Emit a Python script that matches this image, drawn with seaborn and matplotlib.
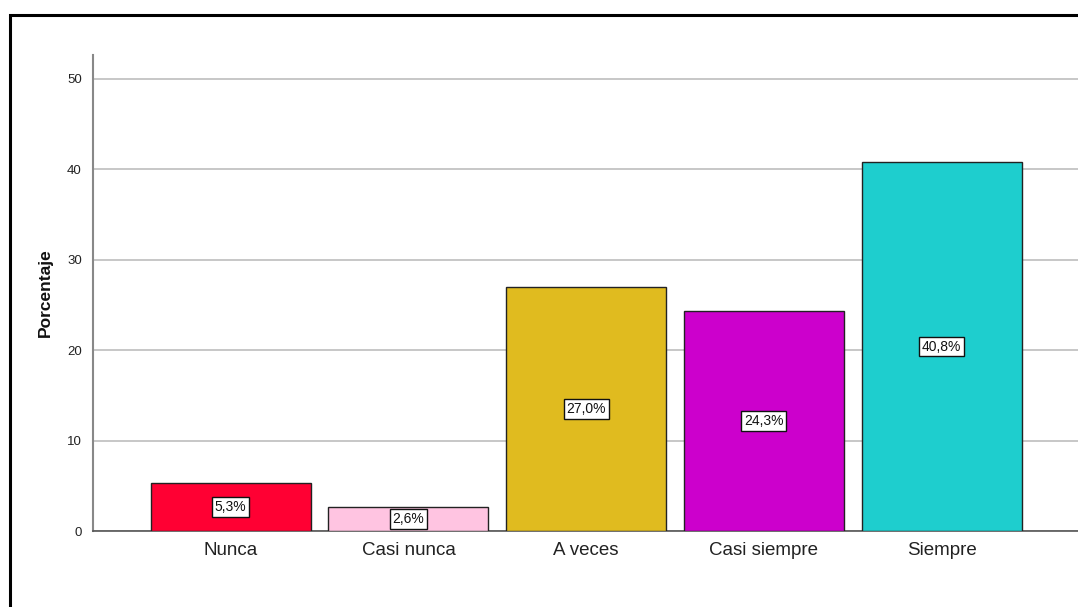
import matplotlib
matplotlib.use("Agg")
import matplotlib.pyplot as plt
import seaborn as sns
import pandas as pd
from matplotlib.patches import Rectangle

categories = ["Nunca", "Casi nunca", "A veces", "Casi siempre", "Siempre"]
values = [5.3, 2.6, 27.0, 24.3, 40.8]
labels = ["5,3%", "2,6%", "27,0%", "24,3%", "40,8%"]
colors = ["#FF0033", "#FFC4E1", "#E0BB1F", "#CC00CC", "#1ECECE"]
yticks = [0, 10, 20, 30, 40, 50]

sns.set_theme(style="white")
plt.rcParams["font.family"] = ["Liberation Sans", "DejaVu Sans"]

df = pd.DataFrame({"cat": categories, "val": values})

fig = plt.figure(figsize=(10.78, 6.07), dpi=100)
ax = fig.add_axes([93/1078, 1 - 531/607, 1 - 93/1078, (531 - 55)/607])

sns.barplot(data=df, x="cat", y="val", hue="cat", palette=colors,
            order=categories, hue_order=categories, width=0.9, saturation=1,
            edgecolor="#222222", linewidth=1.0, legend=False, ax=ax, zorder=3)

ax.set_xlim(-0.775, 4.767)
ax.set_ylim(0, 52.65)
ax.set_yticks(yticks)
ax.set_yticklabels([str(t) for t in yticks], fontsize=9.5, color="#222222")
ax.yaxis.grid(True, color="#BDBDBD", linewidth=1.2, zorder=0)
ax.set_axisbelow(True)
ax.tick_params(axis="y", length=0, pad=8)
ax.tick_params(axis="x", length=0, pad=8, labelsize=13.5, labelcolor="#222222")
ax.set_xlabel("")
ax.set_ylabel("Porcentaje", fontsize=12.5, fontweight="bold", labelpad=10, color="#111111")

for s in ["top", "right"]:
    ax.spines[s].set_visible(False)
ax.spines["left"].set_color("#888888")
ax.spines["left"].set_linewidth(1.5)
ax.spines["bottom"].set_color("#555555")
ax.spines["bottom"].set_linewidth(1.2)

for i, (v, lab) in enumerate(zip(values, labels)):
    ax.text(i, v / 2, lab, ha="center", va="center", fontsize=10, color="#111111", zorder=5,
            bbox=dict(boxstyle="square,pad=0.2", facecolor="white", edgecolor="#111111", linewidth=1.0))

fig.patches.append(Rectangle((10/1078, -0.1), 1.2, 1.1 - 15.5/607,
                             transform=fig.transFigure, fill=False,
                             edgecolor="black", linewidth=2.2, zorder=10))

fig.savefig("out.png", dpi=100)
